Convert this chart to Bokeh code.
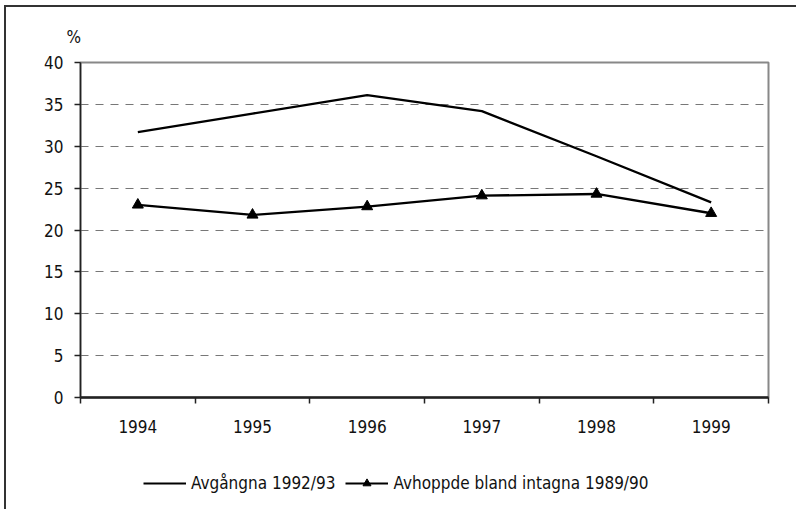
from bokeh.plotting import figure
from bokeh.layouts import column
from bokeh.models import (Range1d, FixedTicker, Legend, LegendItem, Title)
from bokeh.embed import file_html
from bokeh.resources import INLINE

years = ["1994", "1995", "1996", "1997", "1998", "1999"]
avgangna = [31.7, 33.9, 36.1, 34.2, 28.8, 23.3]
avhoppde = [23.0, 21.8, 22.8, 24.1, 24.3, 22.0]
y_ticks = [0, 5, 10, 15, 20, 25, 30, 35, 40]
label_a = "Avgångna 1992/93"
label_b = "Avhoppde bland intagna 1989/90"

FONT = "DejaVu Sans Condensed"
FS = "17px"

xpos = [i + 0.5 for i in range(len(years))]

p = figure(width=790, height=445, output_backend="svg", toolbar_location=None,
           x_range=Range1d(0, len(years)), y_range=Range1d(0, 40),
           min_border_left=74, min_border_right=28, min_border_top=55, min_border_bottom=55)

p.outline_line_color = "#888888"
p.outline_line_width = 2
p.background_fill_color = "white"
p.border_fill_color = "white"

p.xgrid.visible = False
p.ygrid.ticker = FixedTicker(ticks=y_ticks)
p.ygrid.grid_line_color = "#777777"
p.ygrid.grid_line_dash = "8 7"
p.ygrid.grid_line_width = 1

# x axis: labels at category centres, ticks at category boundaries
xa = p.xaxis[0]
xa.ticker = FixedTicker(ticks=xpos, minor_ticks=list(range(len(years) + 1)))
xa.major_label_overrides = {x: y for x, y in zip(xpos, years)}
xa.major_tick_line_color = None
xa.major_tick_out = 0
xa.major_tick_in = 0
xa.minor_tick_out = 6
xa.minor_tick_in = 0
xa.minor_tick_line_color = "#222222"
xa.minor_tick_line_width = 1.5
xa.axis_line_color = "#222222"
xa.axis_line_width = 2.5
xa.major_label_standoff = 16
xa.major_label_text_font = FONT
xa.major_label_text_font_size = FS
xa.major_label_text_color = "#111111"

# y axis
ya = p.yaxis[0]
ya.ticker = FixedTicker(ticks=y_ticks)
ya.minor_tick_line_color = None
ya.major_tick_out = 6
ya.major_tick_in = 0
ya.major_tick_line_color = "#222222"
ya.major_tick_line_width = 1.5
ya.axis_line_color = "#222222"
ya.axis_line_width = 1.5
ya.major_label_standoff = 11
ya.major_label_text_font = FONT
ya.major_label_text_font_size = FS
ya.major_label_text_color = "#111111"

p.add_layout(Title(text="%", align="left", offset=-14, standoff=32,
                   text_font=FONT, text_font_size=FS, text_font_style="normal",
                   text_color="#111111"), "above")

p.line(xpos, avgangna, line_color="black", line_width=2.3)
p.line(xpos, avhoppde, line_color="black", line_width=2.3)
p.scatter(xpos, avhoppde, marker="triangle", size=11, fill_color="black",
          line_color="black")

# legend strip below the chart
q = figure(width=790, height=57, output_backend="svg", toolbar_location=None,
           min_border=0, x_range=Range1d(0, len(years)), y_range=Range1d(0, 40))
q.axis.visible = False
q.grid.visible = False
q.outline_line_color = None
q.background_fill_color = "white"
q.border_fill_color = "white"
k1 = q.line(xpos, avgangna, line_color="black", line_width=2, visible=False)
k2 = q.line(xpos, avhoppde, line_color="black", line_width=2, visible=False)
k3 = q.scatter(xpos, avhoppde, marker="triangle", size=11, fill_color="black",
               line_color="black", visible=False)

legend = Legend(items=[LegendItem(label=label_a, renderers=[k1]),
                       LegendItem(label=label_b, renderers=[k2, k3])],
                orientation="horizontal", location=(63, 16),
                glyph_width=43, glyph_height=20, label_height=20,
                label_standoff=5, spacing=10, padding=0, margin=0,
                label_text_font=FONT, label_text_font_size=FS,
                label_text_color="#111111",
                background_fill_alpha=0, border_line_color=None)
q.add_layout(legend)

layout = column(p, q, spacing=0,
                styles={"margin-left": "4px", "margin-top": "5px",
                        "border-left": "2px solid #333", "border-top": "2px solid #333"})

open("out.html", "w").write(file_html(layout, INLINE))
